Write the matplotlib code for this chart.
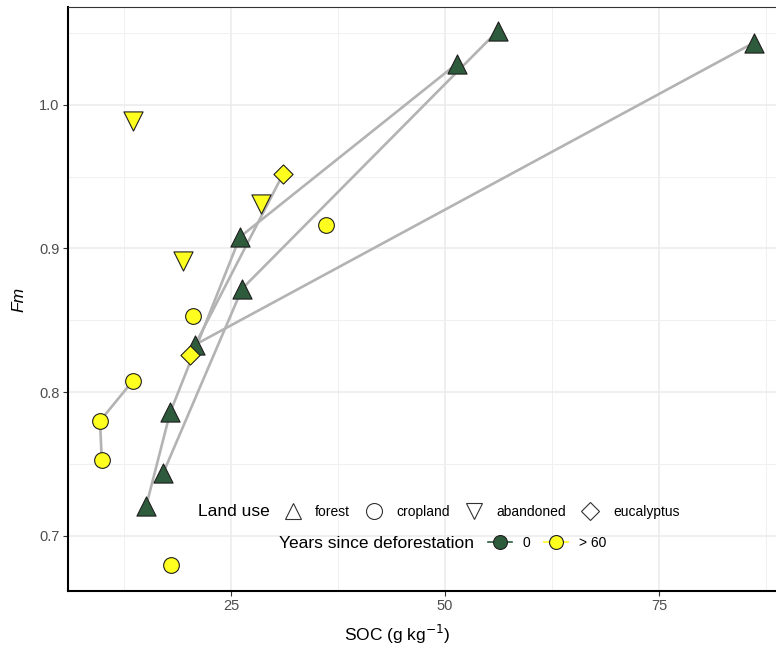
import matplotlib
matplotlib.use("Agg")
import matplotlib.pyplot as plt
from matplotlib.lines import Line2D
import numpy as np

plt.rcParams['font.family'] = ['Liberation Sans', 'DejaVu Sans']

# data
soc = [56.2, 51.4, 86.1, 26.05, 26.3, 20.8, 17.9, 17.1, 15.1,
       36.1, 20.6, 13.55, 9.7, 9.9, 18.0,
       13.55, 19.4, 28.5,
       31.1, 20.2]
fm = [1.0516, 1.0286, 1.0432, 0.908, 0.872, 0.833, 0.786, 0.744, 0.721,
      0.9164, 0.853, 0.808, 0.780, 0.753, 0.680,
      0.989, 0.891, 0.931,
      0.952, 0.826]
land_use = ['forest'] * 9 + ['cropland'] * 6 + ['abandoned'] * 3 + ['eucalyptus'] * 2
years = ['0'] * 9 + ['> 60'] * 11
# sites joined by a grey line (order along the path)
site = ['b', 'a', 'c', 'a', 'b', 'c', 'a', 'b', 'a',
        'p1', 'p2', 'e', 'e', 'e', 'p3',
        'p4', 'p5', 'p6',
        'd', 'd']
path_order = [3, 4, 2, 3, 2, 1, 2, 1, 1,
              1, 1, 1, 2, 3, 1,
              1, 1, 1,
              2, 1]

land_levels = ['forest', 'cropland', 'abandoned', 'eucalyptus']
shape_map = {'forest': '^', 'cropland': 'o', 'abandoned': 'v', 'eucalyptus': 'D'}
size_map = {'forest': 190, 'cropland': 128, 'abandoned': 190, 'eucalyptus': 95}
year_levels = ['0', '> 60']
fill_map = {'0': '#2e5b3c', '> 60': '#ffff1f'}

soc = np.array(soc)
fm = np.array(fm)
site = np.array(site)
path_order = np.array(path_order)

fig = plt.figure(figsize=(7.76, 6.48), dpi=100)
ax = fig.add_axes([68 / 776, 57 / 648, 708 / 776, 584 / 648])

# grey lines joining samples of the same site
for s in np.unique(site):
    idx = np.where(site == s)[0]
    if len(idx) < 2:
        continue
    idx = idx[np.argsort(path_order[idx])]
    ax.plot(soc[idx], fm[idx], color='#b3b3b3', lw=1.9, zorder=2,
            solid_capstyle='butt')

for lu in land_levels:
    for yr in year_levels:
        idx = [i for i in range(len(soc)) if land_use[i] == lu and years[i] == yr]
        if not idx:
            continue
        ax.scatter(soc[idx], fm[idx], marker=shape_map[lu], s=size_map[lu],
                   facecolor=fill_map[yr], edgecolor='#1f1f1f', linewidth=0.8,
                   zorder=3)

ax.set_xlim(5.96, 88.67)
ax.set_ylim(0.6617, 1.068)
ax.set_xticks([25, 50, 75])
ax.set_yticks([0.7, 0.8, 0.9, 1.0])
ax.set_xticks([12.5, 37.5, 62.5, 87.5], minor=True)
ax.set_yticks([0.75, 0.85, 0.95, 1.05], minor=True)
ax.set_yticklabels(['0.7', '0.8', '0.9', '1.0'])
ax.grid(which='major', color='#ebebeb', lw=1.1, zorder=0)
ax.grid(which='minor', color='#f0f0f0', lw=0.7, zorder=0)
ax.set_axisbelow(True)
ax.tick_params(which='major', length=3.5, width=0.8, color='#333333',
               labelsize=10.5, labelcolor='#4d4d4d', pad=2.5)
ax.tick_params(which='minor', length=0)

for sp in ['left', 'bottom']:
    ax.spines[sp].set_linewidth(1.5)
    ax.spines[sp].set_color('black')
ax.spines['top'].set_linewidth(0.8)
ax.spines['top'].set_color('#333333')
ax.spines['right'].set_visible(False)

ax.set_xlabel('SOC (g kg$^{-1}$)', fontsize=12.5)
ax.xaxis.set_label_coords((397 - 68) / 708, -0.055)
ax.set_ylabel('Fm', fontsize=12.5, style='italic')
ax.yaxis.set_label_coords(-0.058, 0.5)

# legends inside the panel, title on the left
shape_handles = [Line2D([], [], ls='none', marker=shape_map[lu], markersize=11.5 if lu != 'eucalyptus' else 9.5,
                        markerfacecolor='none', markeredgecolor='#333333', markeredgewidth=0.8)
                 for lu in land_levels]
leg1 = ax.legend(shape_handles, land_levels, ncol=4, loc='center left',
                 bbox_to_anchor=(284 / 776, 1 - 512 / 648), bbox_transform=fig.transFigure,
                 frameon=False, fontsize=10, handlelength=1.25, handletextpad=1.0,
                 columnspacing=1.1, borderpad=0, borderaxespad=0)
ax.add_artist(leg1)
fig.text(198 / 776, 1 - 512 / 648, 'Land use', fontsize=12.5, ha='left', va='center')

year_handles = [Line2D([], [], color=fill_map[yr], lw=1.2, marker='o', markersize=10,
                       markerfacecolor=fill_map[yr], markeredgecolor='#1f1f1f', markeredgewidth=0.8)
                for yr in year_levels]
leg2 = ax.legend(year_handles, year_levels, ncol=2, loc='center left',
                 bbox_to_anchor=(488 / 776, 1 - 543 / 648), bbox_transform=fig.transFigure,
                 frameon=False, fontsize=10, handlelength=1.7, handletextpad=0.8,
                 columnspacing=1.0, borderpad=0, borderaxespad=0)
fig.text(279 / 776, 1 - 543 / 648, 'Years since deforestation', fontsize=12.5,
         ha='left', va='center')

fig.savefig('out.png', dpi=100)
